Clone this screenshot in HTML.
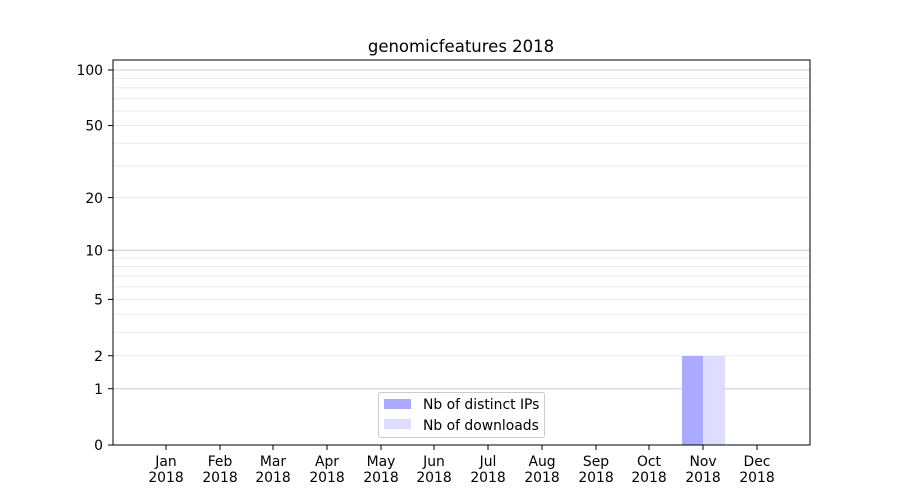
<!DOCTYPE html>
<html><head><meta charset="utf-8"><style>body{margin:0;background:#fff}svg{display:block}text{font-family:"DejaVu Sans","Liberation Sans",sans-serif;font-size:13.9px;fill:#000}</style></head>
<body>
<svg width="900" height="500" viewBox="0 0 900 500">
<g stroke="#ebebeb" stroke-width="1">
<line x1="113" x2="810" y1="355.7" y2="355.7"/><line x1="113" x2="810" y1="332.4" y2="332.4"/>
<line x1="113" x2="810" y1="314.2" y2="314.2"/><line x1="113" x2="810" y1="299.4" y2="299.4"/>
<line x1="113" x2="810" y1="286.9" y2="286.9"/><line x1="113" x2="810" y1="276" y2="276"/>
<line x1="113" x2="810" y1="266.5" y2="266.5"/><line x1="113" x2="810" y1="257.9" y2="257.9"/>
<line x1="113" x2="810" y1="197.6" y2="197.6"/><line x1="113" x2="810" y1="166" y2="166"/>
<line x1="113" x2="810" y1="143.2" y2="143.2"/><line x1="113" x2="810" y1="125.5" y2="125.5"/>
<line x1="113" x2="810" y1="111" y2="111"/><line x1="113" x2="810" y1="98.6" y2="98.6"/>
<line x1="113" x2="810" y1="87.9" y2="87.9"/><line x1="113" x2="810" y1="78.5" y2="78.5"/>
</g>
<g stroke="#cccccc" stroke-width="1">
<line x1="113" x2="810" y1="388.7" y2="388.7"/><line x1="113" x2="810" y1="250.2" y2="250.2"/><line x1="113" x2="810" y1="70" y2="70"/>
</g>
<rect x="682" y="356" width="21" height="89" fill="#aaaaff"/>
<rect x="703" y="356" width="22" height="89" fill="#ddddff"/>
<rect x="113" y="60" width="697" height="385" fill="none" stroke="#000" stroke-width="1"/>
<g stroke="#000">
<line x1="108" x2="113" y1="445" y2="445"/><line x1="108" x2="113" y1="388.7" y2="388.7"/>
<line x1="108" x2="113" y1="355.7" y2="355.7"/><line x1="108" x2="113" y1="299.4" y2="299.4"/>
<line x1="108" x2="113" y1="250.2" y2="250.2"/><line x1="108" x2="113" y1="197.6" y2="197.6"/>
<line x1="108" x2="113" y1="125.5" y2="125.5"/><line x1="108" x2="113" y1="70" y2="70"/>
</g>
<g text-anchor="end">
<text x="103" y="450">0</text><text x="103" y="394">1</text><text x="103" y="361">2</text>
<text x="103" y="304.5">5</text><text x="103" y="255.5">10</text><text x="103" y="203">20</text>
<text x="103" y="130.5">50</text><text x="103" y="75">100</text>
</g>
<g stroke="#000">
<line x1="166" x2="166" y1="445" y2="450"/><line x1="220" x2="220" y1="445" y2="450"/>
<line x1="273" x2="273" y1="445" y2="450"/><line x1="327" x2="327" y1="445" y2="450"/>
<line x1="381" x2="381" y1="445" y2="450"/><line x1="434" x2="434" y1="445" y2="450"/>
<line x1="488" x2="488" y1="445" y2="450"/><line x1="542" x2="542" y1="445" y2="450"/>
<line x1="596" x2="596" y1="445" y2="450"/><line x1="649" x2="649" y1="445" y2="450"/>
<line x1="703" x2="703" y1="445" y2="450"/><line x1="757" x2="757" y1="445" y2="450"/>
</g>
<g text-anchor="middle">
<text x="166" y="466">Jan</text><text x="166" y="482">2018</text>
<text x="220" y="466">Feb</text><text x="220" y="482">2018</text>
<text x="273" y="466">Mar</text><text x="273" y="482">2018</text>
<text x="327" y="466">Apr</text><text x="327" y="482">2018</text>
<text x="381" y="466">May</text><text x="381" y="482">2018</text>
<text x="434" y="466">Jun</text><text x="434" y="482">2018</text>
<text x="488" y="466">Jul</text><text x="488" y="482">2018</text>
<text x="542" y="466">Aug</text><text x="542" y="482">2018</text>
<text x="596" y="466">Sep</text><text x="596" y="482">2018</text>
<text x="649" y="466">Oct</text><text x="649" y="482">2018</text>
<text x="703" y="466">Nov</text><text x="703" y="482">2018</text>
<text x="757" y="466">Dec</text><text x="757" y="482">2018</text>
<text x="461" y="52" style="font-size:16.5px">genomicfeatures 2018</text>
</g>
<rect x="378.5" y="392.5" width="166" height="45" rx="2" fill="#fff" fill-opacity="0.8" stroke="#cccccc"/>
<rect x="384" y="399" width="27" height="10" fill="#aaaaff"/>
<rect x="384" y="419" width="27" height="10" fill="#ddddff"/>
<text x="423" y="409">Nb of distinct IPs</text>
<text x="423" y="430">Nb of downloads</text>
</svg>
</body></html>
